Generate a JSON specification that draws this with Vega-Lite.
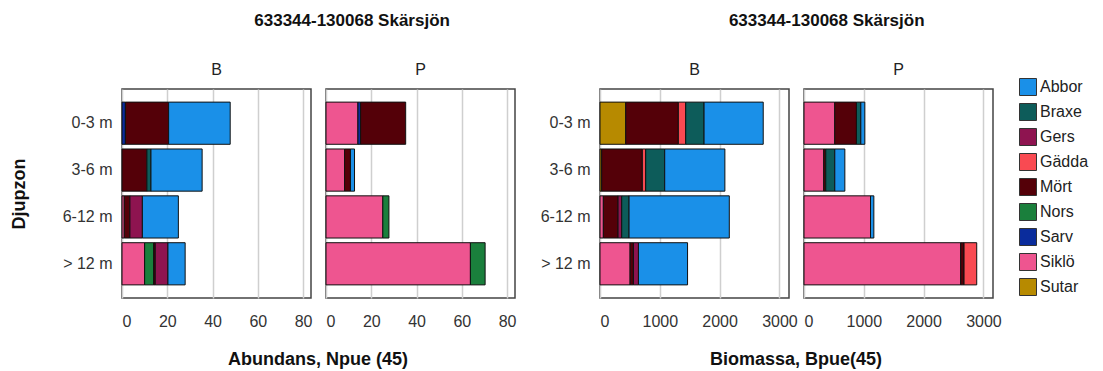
{
  "$schema": "https://vega.github.io/schema/vega-lite/v6.json",
  "background": "white",
  "padding": {"left": 10, "top": 12, "right": 5, "bottom": 0},
  "config": {
    "font": "Liberation Sans",
    "view": {"stroke": "#444444", "strokeWidth": 1.5},
    "axis": {"labelFontSize": 16, "labelColor": "#333333", "titleFontSize": 18, "titleFontWeight": "bold", "titleColor": "#111111", "ticks": false, "domain": false, "gridColor": "#cfcfcf", "gridWidth": 1.5},
    "header": {"labelFontSize": 16, "labelColor": "#222222", "titleFontSize": 18, "titleFontWeight": "bold", "titleColor": "#111111"},
    "title": {"fontSize": 17, "fontWeight": "bold", "color": "#111111"},
    "legend": {"labelFontSize": 16, "labelColor": "#222222", "symbolType": "square", "symbolSize": 289, "symbolStrokeColor": "#333333", "symbolStrokeWidth": 1, "rowPadding": 3, "labelOffset": 3}
  },
  "datasets": {
    "abund": [
      {"typ": "B", "zon": "0-3 m", "art": "Sarv", "v": 1.5},
      {"typ": "B", "zon": "0-3 m", "art": "Mört", "v": 19.1},
      {"typ": "B", "zon": "0-3 m", "art": "Abbor", "v": 27.2},
      {"typ": "B", "zon": "3-6 m", "art": "Mört", "v": 11},
      {"typ": "B", "zon": "3-6 m", "art": "Braxe", "v": 1.8},
      {"typ": "B", "zon": "3-6 m", "art": "Abbor", "v": 22.6},
      {"typ": "B", "zon": "6-12 m", "art": "Siklö", "v": 1.0},
      {"typ": "B", "zon": "6-12 m", "art": "Mört", "v": 2.5},
      {"typ": "B", "zon": "6-12 m", "art": "Gers", "v": 5.5},
      {"typ": "B", "zon": "6-12 m", "art": "Abbor", "v": 15.9},
      {"typ": "B", "zon": "> 12 m", "art": "Siklö", "v": 10},
      {"typ": "B", "zon": "> 12 m", "art": "Nors", "v": 4},
      {"typ": "B", "zon": "> 12 m", "art": "Mört", "v": 0.7},
      {"typ": "B", "zon": "> 12 m", "art": "Gers", "v": 5.6},
      {"typ": "B", "zon": "> 12 m", "art": "Abbor", "v": 7.6},
      {"typ": "P", "zon": "0-3 m", "art": "Siklö", "v": 14.1},
      {"typ": "P", "zon": "0-3 m", "art": "Sarv", "v": 1.2},
      {"typ": "P", "zon": "0-3 m", "art": "Mört", "v": 19.9},
      {"typ": "P", "zon": "3-6 m", "art": "Siklö", "v": 8.2},
      {"typ": "P", "zon": "3-6 m", "art": "Mört", "v": 2.6},
      {"typ": "P", "zon": "3-6 m", "art": "Abbor", "v": 1.8},
      {"typ": "P", "zon": "6-12 m", "art": "Siklö", "v": 25.1},
      {"typ": "P", "zon": "6-12 m", "art": "Nors", "v": 2.7},
      {"typ": "P", "zon": "> 12 m", "art": "Siklö", "v": 63.8},
      {"typ": "P", "zon": "> 12 m", "art": "Nors", "v": 6.5}
    ],
    "bio": [
      {"typ": "B", "zon": "0-3 m", "art": "Sutar", "v": 430},
      {"typ": "B", "zon": "0-3 m", "art": "Mört", "v": 880},
      {"typ": "B", "zon": "0-3 m", "art": "Gädda", "v": 123},
      {"typ": "B", "zon": "0-3 m", "art": "Braxe", "v": 307},
      {"typ": "B", "zon": "0-3 m", "art": "Abbor", "v": 989},
      {"typ": "B", "zon": "3-6 m", "art": "Sutar", "v": 28},
      {"typ": "B", "zon": "3-6 m", "art": "Mört", "v": 680},
      {"typ": "B", "zon": "3-6 m", "art": "Gädda", "v": 56},
      {"typ": "B", "zon": "3-6 m", "art": "Braxe", "v": 318},
      {"typ": "B", "zon": "3-6 m", "art": "Abbor", "v": 1006},
      {"typ": "B", "zon": "6-12 m", "art": "Siklö", "v": 56},
      {"typ": "B", "zon": "6-12 m", "art": "Mört", "v": 246},
      {"typ": "B", "zon": "6-12 m", "art": "Gers", "v": 61},
      {"typ": "B", "zon": "6-12 m", "art": "Braxe", "v": 123},
      {"typ": "B", "zon": "6-12 m", "art": "Abbor", "v": 1676},
      {"typ": "B", "zon": "> 12 m", "art": "Siklö", "v": 503},
      {"typ": "B", "zon": "> 12 m", "art": "Mört", "v": 56},
      {"typ": "B", "zon": "> 12 m", "art": "Gers", "v": 84},
      {"typ": "B", "zon": "> 12 m", "art": "Abbor", "v": 821},
      {"typ": "P", "zon": "0-3 m", "art": "Siklö", "v": 514},
      {"typ": "P", "zon": "0-3 m", "art": "Mört", "v": 363},
      {"typ": "P", "zon": "0-3 m", "art": "Braxe", "v": 73},
      {"typ": "P", "zon": "0-3 m", "art": "Abbor", "v": 67},
      {"typ": "P", "zon": "3-6 m", "art": "Siklö", "v": 330},
      {"typ": "P", "zon": "3-6 m", "art": "Mört", "v": 34},
      {"typ": "P", "zon": "3-6 m", "art": "Braxe", "v": 151},
      {"typ": "P", "zon": "3-6 m", "art": "Abbor", "v": 168},
      {"typ": "P", "zon": "6-12 m", "art": "Siklö", "v": 1112},
      {"typ": "P", "zon": "6-12 m", "art": "Abbor", "v": 56},
      {"typ": "P", "zon": "> 12 m", "art": "Siklö", "v": 2620},
      {"typ": "P", "zon": "> 12 m", "art": "Mört", "v": 56},
      {"typ": "P", "zon": "> 12 m", "art": "Gädda", "v": 212}
    ]
  },
  "hconcat": [
    {
      "title": {"text": "633344-130068 Skärsjön", "anchor": "middle", "dx": 89, "offset": 32},
      "data": {"name": "abund"},
      "facet": {"column": {"field": "typ", "type": "nominal", "header": {"title": "Abundans, Npue (45)", "titleOrient": "bottom", "labelOrient": "top", "labelPadding": 10, "titlePadding": 12}}},
      "spacing": 12,
      "spec": {
        "width": 189,
        "height": 209,
        "mark": {"type": "bar", "stroke": "#111111", "strokeWidth": 1},
        "encoding": {
          "y": {"field": "zon", "type": "nominal", "sort": ["0-3 m", "3-6 m", "6-12 m", "> 12 m"], "scale": {"paddingInner": 0.1, "paddingOuter": 0.28}, "axis": {"title": "Djupzon", "labelPadding": 8, "titlePadding": 34}},
          "x": {"field": "v", "type": "quantitative", "stack": "zero", "scale": {"domain": [0, 83.5], "nice": false}, "axis": {"values": [0, 20, 40, 60, 80], "title": null, "grid": true, "labelPadding": 14}},
          "color": {"field": "art", "type": "nominal", "scale": {"domain": ["Abbor", "Braxe", "Gers", "Gädda", "Mört", "Nors", "Sarv", "Siklö", "Sutar"], "range": ["#1a90e8", "#0d5c5a", "#8e1450", "#f94a52", "#540008", "#1a7f3c", "#0a2c9c", "#ee5590", "#b78a00"]}, "legend": {"title": null, "orient": "none", "legendX": 897, "legendY": -11}},
          "order": {"field": "art", "sort": "descending"}
        }
      }
    },
    {
      "title": {"text": "633344-130068 Skärsjön", "anchor": "middle", "dx": 56, "offset": 32},
      "data": {"name": "bio"},
      "facet": {"column": {"field": "typ", "type": "nominal", "header": {"title": "Biomassa, Bpue(45)", "titleOrient": "bottom", "labelOrient": "top", "labelPadding": 10, "titlePadding": 12}}},
      "spacing": 12,
      "spec": {
        "width": 189,
        "height": 209,
        "mark": {"type": "bar", "stroke": "#111111", "strokeWidth": 1},
        "encoding": {
          "y": {"field": "zon", "type": "nominal", "sort": ["0-3 m", "3-6 m", "6-12 m", "> 12 m"], "scale": {"paddingInner": 0.1, "paddingOuter": 0.28}, "axis": {"title": null, "labelPadding": 8}},
          "x": {"field": "v", "type": "quantitative", "stack": "zero", "scale": {"domain": [0, 3160], "nice": false}, "axis": {"values": [0, 1000, 2000, 3000], "format": "d", "title": null, "grid": true, "labelPadding": 14}},
          "color": {"field": "art", "type": "nominal", "scale": {"domain": ["Abbor", "Braxe", "Gers", "Gädda", "Mört", "Nors", "Sarv", "Siklö", "Sutar"], "range": ["#1a90e8", "#0d5c5a", "#8e1450", "#f94a52", "#540008", "#1a7f3c", "#0a2c9c", "#ee5590", "#b78a00"]}, "legend": {"title": null, "orient": "none", "legendX": 897, "legendY": -11}},
          "order": {"field": "art", "sort": "descending"}
        }
      }
    }
  ],
  "spacing": 24,
  "resolve": {"scale": {"color": "shared"}}
}
